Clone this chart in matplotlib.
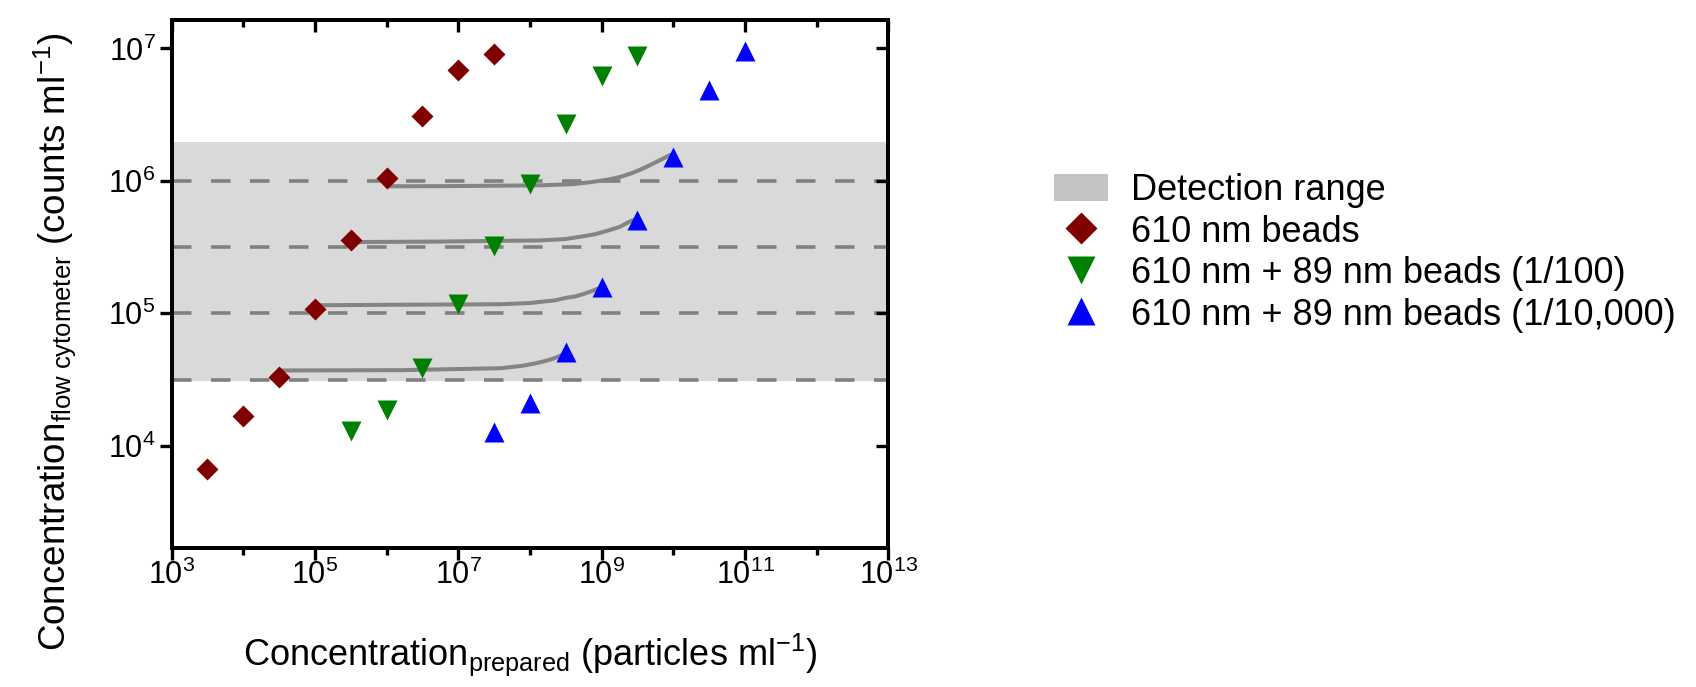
import matplotlib
matplotlib.use('Agg')
import matplotlib.pyplot as plt
from matplotlib.patches import Patch
from matplotlib.ticker import NullLocator, NullFormatter

plt.rcParams['font.family'] = 'Liberation Sans'
plt.rcParams['mathtext.fontset'] = 'custom'
plt.rcParams['mathtext.rm'] = 'Liberation Sans'
plt.rcParams['mathtext.it'] = 'Liberation Sans:italic'
plt.rcParams['mathtext.default'] = 'regular'

# prepared concentration (particles/ml) vs. counted concentration (counts/ml)
x_610 = [3.16e3, 1e4, 3.16e4, 1e5, 3.16e5, 1e6, 3.16e6, 1e7, 3.16e7]
y_610 = [6.7e3, 1.69e4, 3.32e4, 1.07e5, 3.56e5, 1.06e6, 3.08e6, 6.85e6, 9.06e6]

x_mix100 = [3.16e5, 1e6, 3.16e6, 1e7, 3.16e7, 1e8, 3.16e8, 1e9, 3.16e9]
y_mix100 = [1.29e4, 1.86e4, 3.88e4, 1.17e5, 3.21e5, 9.44e5, 2.68e6, 6.18e6, 8.75e6]

x_mix10000 = [3.16e7, 1e8, 3.16e8, 1e9, 3.16e9, 1e10, 3.16e10, 1e11]
y_mix10000 = [1.28e4, 2.09e4, 5.1e4, 1.59e5, 5.1e5, 1.52e6, 4.84e6, 9.6e6]

# grey guide curves
curve1_x = [3.16e4, 1.6e6, 4e7, 8e7, 1.1e8, 1.6e8, 2.0e8, 2.3e8, 2.7e8, 3.0e8]
curve1_y = [3.7e4, 3.72e4, 3.85e4, 4.02e4, 4.15e4, 4.35e4, 4.5e4, 4.63e4, 4.8e4, 4.95e4]
curve2_x = [1e5, 1.5e6, 3.8e7, 1e8, 1.4e8, 2.2e8, 3.2e8, 4.3e8, 5.6e8, 7.5e8, 9.5e8]
curve2_y = [1.15e5, 1.16e5, 1.17e5, 1.195e5, 1.22e5, 1.25e5, 1.31e5, 1.34e5, 1.40e5, 1.48e5, 1.56e5]
curve3_x = [3.16e5, 5.5e6, 1.4e8, 3e8, 5e8, 8e8, 1.2e9, 1.8e9, 2.5e9, 2.9e9]
curve3_y = [3.45e5, 3.48e5, 3.55e5, 3.63e5, 3.78e5, 3.95e5, 4.2e5, 4.5e5, 4.95e5, 5.1e5]
curve4_x = [1e6, 5.5e6, 1.4e8, 4e8, 6.8e8, 1.2e9, 1.8e9, 2.6e9, 3.4e9, 4.4e9, 5.5e9, 7.5e9, 9e9]
curve4_y = [9.1e5, 9.12e5, 9.25e5, 9.45e5, 9.75e5, 1.02e6, 1.07e6, 1.14e6, 1.21e6, 1.29e6, 1.37e6, 1.49e6, 1.57e6]

dashed_levels = [3.16e4, 1e5, 3.16e5, 1e6]
detection_range = [3.1e4, 1.95e6]

labels = ['Detection range', '610 nm beads',
          '610 nm + 89 nm beads (1/100)', '610 nm + 89 nm beads (1/10,000)']

fig = plt.figure(figsize=(16.96, 6.87), dpi=100)
ax = fig.add_axes([0.1012, 0.2019, 0.4226, 0.769])

ax.axhspan(detection_range[0], detection_range[1], color='#d9d9d9', lw=0, zorder=0)
for lev in dashed_levels:
    ax.axhline(lev, color='#808080', lw=2.6, dashes=(5.4, 5.4), zorder=1)

for cx, cy in [(curve1_x, curve1_y), (curve2_x, curve2_y),
               (curve3_x, curve3_y), (curve4_x, curve4_y)]:
    ax.plot(cx, cy, color='#848484', lw=2.9, zorder=2,
            solid_capstyle='round', solid_joinstyle='round')

l1, = ax.plot(x_610, y_610, ls='none', marker='D', ms=11.5, color='#800000', mec='none', zorder=3)
l2, = ax.plot(x_mix100, y_mix100, ls='none', marker='v', ms=14.5, color='#008000', mec='none', zorder=3)
l3, = ax.plot(x_mix10000, y_mix10000, ls='none', marker='^', ms=14.5, color='#0000ff', mec='none', zorder=3)

ax.set_xscale('log')
ax.set_yscale('log')
ax.set_xlim(1e3, 1e13)
ax.set_ylim(1.68e3, 1.64e7)

xmaj = [1e3, 1e5, 1e7, 1e9, 1e11, 1e13]
xmin = [1e4, 1e6, 1e8, 1e10, 1e12]
ymaj = [1e4, 1e5, 1e6, 1e7]

ax.set_xticks(xmaj)
ax.set_xticks(xmin, minor=True)
ax.xaxis.set_minor_formatter(NullFormatter())
ax.set_yticks(ymaj)
ax.yaxis.set_minor_locator(NullLocator())
ax.tick_params(which='major', direction='out', length=8.5, width=2.4, labelsize=22)
ax.tick_params(axis='x', which='major', pad=0)
ax.tick_params(axis='y', which='major', pad=3)
ax.tick_params(which='minor', direction='out', length=4.8, width=2.4)

# mirrored ticks on top and right, pointing inward
axt = ax.twiny()
axt.set_xscale('log')
axt.set_xlim(ax.get_xlim())
axt.set_xticks(xmaj)
axt.set_xticks(xmin, minor=True)
axt.xaxis.set_major_formatter(NullFormatter())
axt.xaxis.set_minor_formatter(NullFormatter())
axt.tick_params(which='major', direction='in', length=8.5, width=2.4, labeltop=False)
axt.tick_params(which='minor', direction='in', length=4.8, width=2.4, labeltop=False)
axr = ax.twinx()
axr.set_yscale('log')
axr.set_ylim(ax.get_ylim())
axr.set_yticks(ymaj)
axr.yaxis.set_major_formatter(NullFormatter())
axr.yaxis.set_minor_locator(NullLocator())
axr.tick_params(which='major', direction='in', length=8.5, width=2.4, labelright=False)

for a in (ax, axt, axr):
    for sp in a.spines.values():
        sp.set_linewidth(2.6)

ax.set_xlabel('Concentration$_{prepared}$ (particles ml$^{-1}$)', fontsize=26, labelpad=29)
ax.set_ylabel('Concentration$_{flow\\ cytometer}$ (counts ml$^{-1}$)', fontsize=26.5)
ax.yaxis.set_label_coords(-0.13, 0.39)

handles = [Patch(facecolor='#c4c4c4', edgecolor='none'), l1, l2, l3]
fig.legend(handles, labels, loc='center left', bbox_to_anchor=(0.6215, 0.632),
           frameon=False, fontsize=26, handlelength=1.5, handleheight=0.8,
           handletextpad=0.62, labelspacing=0.18, borderpad=0, borderaxespad=0,
           markerscale=1.4)

fig.savefig('out.png', dpi=100)
